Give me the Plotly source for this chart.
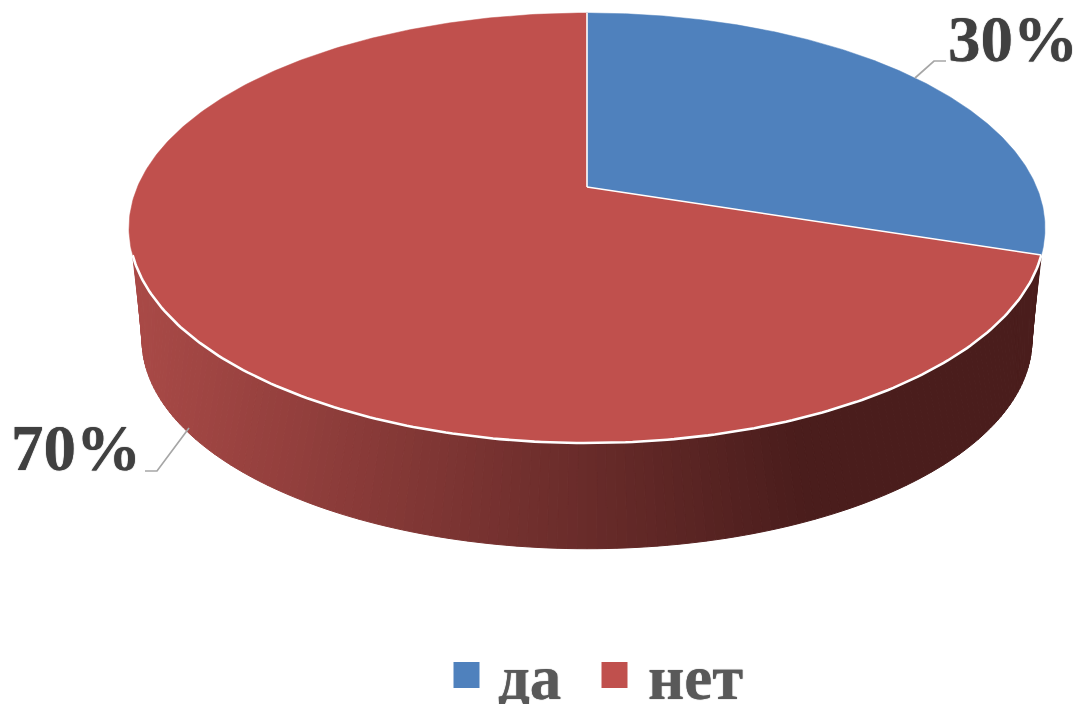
import numpy as np
import plotly.graph_objects as go

categories = ["да", "нет"]
values = [30, 70]
colors = ["#4f81bd", "#c0504d"]

W, H = 1080, 704
CX = 587
TOP = dict(A=449.6, B=207.2, y0=187.0)
BOT = dict(A=436.8, B=201.3, y0=300.0)
K = 0.1907


def project(theta_deg, p):
    t = np.radians(theta_deg)
    u, v = np.sin(t), np.cos(t)
    d = 1 + K * v
    return CX + p["A"] * u / d, p["y0"] - p["B"] * v / d


def side_color(x):
    f = min(max((x - 130) / 670, 0), 1)
    a, b = (170, 74, 71), (74, 29, 28)
    return "rgb(%d,%d,%d)" % tuple(round(a[i] + (b[i] - a[i]) * f) for i in range(3))


fig = go.Figure()
cut = 360 * values[0] / sum(values)
mirror = 360 - cut

# side wall, strip by strip
n = 150
t_top = np.linspace(cut, mirror, n + 1)
t_bot = np.linspace(cut - 8, mirror + 8, n + 1)
for i in range(n):
    x1, y1 = project(np.linspace(t_top[i], t_top[i + 1], 4), TOP)
    x2, y2 = project(np.linspace(t_bot[i + 1], t_bot[i], 4), BOT)
    col = side_color((x1.mean() + x2.mean()) / 2)
    fig.add_trace(go.Scatter(
        x=np.r_[x1, x2, x1[0]], y=np.r_[y1, y2, y1[0]], mode="lines",
        fill="toself", fillcolor=col, line=dict(color=col, width=1),
        hoverinfo="skip", showlegend=False))

# top face slices
start = 0
for cat, val, col in zip(categories, values, colors):
    sweep = 360 * val / sum(values)
    th = np.linspace(start, start + sweep, 361)
    x, y = project(th, TOP)
    fig.add_trace(go.Scatter(
        x=np.r_[CX, x, CX], y=np.r_[TOP["y0"], y, TOP["y0"]], mode="lines",
        fill="toself", fillcolor=col, line=dict(color=col, width=0.5),
        name=cat, showlegend=False, hoverinfo="name"))
    start += sweep

# white edges: slice borders and front rim
for ang in (0, cut):
    x, y = project(np.array([ang]), TOP)
    fig.add_trace(go.Scatter(x=[CX, x[0]], y=[TOP["y0"], y[0]], mode="lines",
                             line=dict(color="white", width=1.6),
                             hoverinfo="skip", showlegend=False))
x, y = project(np.linspace(cut, mirror, 200), TOP)
fig.add_trace(go.Scatter(x=x, y=y, mode="lines", line=dict(color="white", width=2.6),
                         hoverinfo="skip", showlegend=False))

# leader lines
for lx, ly in (([915, 934, 946], [78, 61, 61]), ([189, 157, 145], [428, 471, 471])):
    fig.add_trace(go.Scatter(x=lx, y=ly, mode="lines", line=dict(color="#a6a6a6", width=1.7),
                             hoverinfo="skip", showlegend=False))

# legend swatches
fig.add_trace(go.Scatter(x=[466.5, 614.5], y=[675, 675], mode="markers",
                         marker=dict(symbol="square", size=26, color=colors, line=dict(width=0)),
                         text=categories, hoverinfo="text", showlegend=False))

LBL = "Liberation Serif"
ann = [
    dict(x=1012.5, y=38.5, text=f"<b>{values[0]}%</b>", size=65, color="#404040"),
    dict(x=75.5, y=447.5, text=f"<b>{values[1]}%</b>", size=65, color="#404040"),
    dict(x=529, y=678, text=f"<b>{categories[0]}</b>", size=63, color="#595959"),
    dict(x=695, y=678, text=f"<b>{categories[1]}</b>", size=63, color="#595959"),
]
for a in ann:
    fig.add_annotation(x=a["x"], y=a["y"], text=a["text"], showarrow=False,
                       xanchor="center", yanchor="middle",
                       font=dict(family=LBL, size=a["size"], color=a["color"],
                                 shadow="0 0 1px " + a["color"]))

fig.update_layout(
    width=W, height=H, margin=dict(l=0, r=0, t=0, b=0), paper_bgcolor="white", plot_bgcolor="white",
    xaxis=dict(range=[0, W], visible=False, fixedrange=True),
    yaxis=dict(range=[H, 0], visible=False, fixedrange=True),
    showlegend=False, hovermode="closest",
)
fig.write_html("out.html", config=dict(displayModeBar=False),
               post_script="document.body.style.margin='0';document.body.style.overflow='hidden';")
